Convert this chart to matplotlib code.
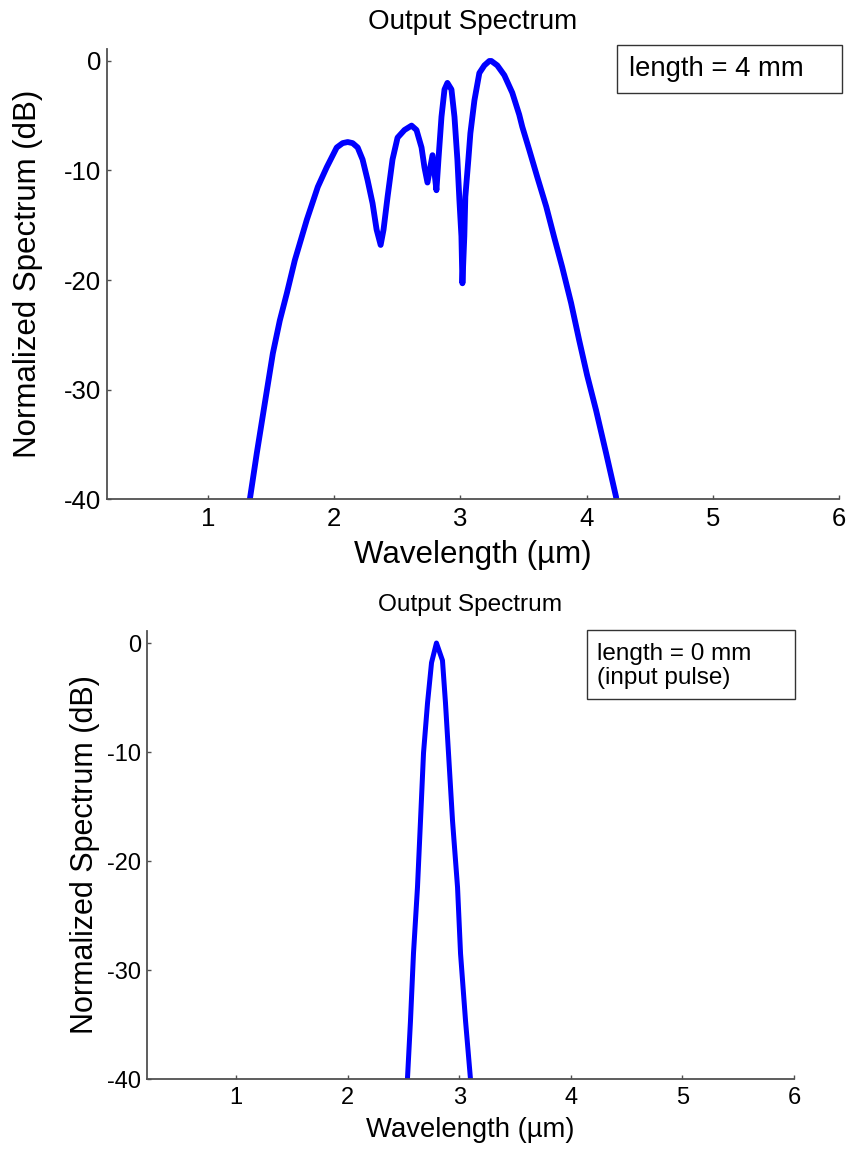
import matplotlib
matplotlib.use('Agg')
import matplotlib.pyplot as plt
from matplotlib.patches import Rectangle

plt.rcParams['font.family'] = ['Liberation Sans', 'DejaVu Sans']
plt.rcParams['axes.unicode_minus'] = False

# spectrum after 4 mm
wl_4mm = [1.30, 1.332, 1.387, 1.451, 1.514, 1.569, 1.625, 1.688, 1.783, 1.870,
          1.941, 2.020, 2.067, 2.107, 2.146, 2.186, 2.225, 2.265, 2.304, 2.336,
          2.368, 2.391, 2.423, 2.462, 2.502, 2.557, 2.613, 2.652, 2.692, 2.715,
          2.739, 2.779, 2.810, 2.826, 2.850, 2.874, 2.897, 2.929, 2.953, 2.976,
          2.992, 3.008, 3.016, 3.031, 3.039, 3.063, 3.079, 3.111, 3.150, 3.190,
          3.229, 3.245, 3.292, 3.348, 3.411, 3.466, 3.490, 3.545, 3.609, 3.680,
          3.743, 3.806, 3.877, 3.941, 4.004, 4.075, 4.154, 4.233, 4.26]
db_4mm = [-42.5, -40.0, -35.8, -31.2, -26.7, -23.7, -21.2, -18.2, -14.5, -11.5,
          -9.7, -7.9, -7.5, -7.4, -7.5, -7.9, -9.0, -10.9, -13.0, -15.4,
          -16.8, -15.4, -12.4, -9.0, -7.0, -6.3, -5.9, -6.3, -7.9, -9.7,
          -11.1, -8.6, -11.8, -9.0, -5.1, -2.6, -2.0, -2.6, -5.1, -9.0,
          -12.7, -16.0, -20.3, -16.0, -12.4, -9.0, -6.6, -3.6, -1.1, -0.4,
          0.0, 0.0, -0.4, -1.3, -2.9, -4.9, -6.0, -8.1, -10.6, -13.3,
          -16.1, -18.8, -22.1, -25.5, -28.7, -31.9, -35.8, -39.8, -42.0]

# input pulse (0 mm)
wl_0mm = [2.52, 2.535, 2.562, 2.589, 2.625, 2.652, 2.679, 2.715, 2.751, 2.795,
          2.849, 2.876, 2.903, 2.939, 2.984, 3.011, 3.056, 3.100, 3.11]
db_0mm = [-41.5, -40.0, -34.7, -28.5, -22.4, -16.3, -10.1, -5.5, -1.8, 0.0,
          -1.6, -5.5, -10.1, -16.3, -22.4, -28.5, -34.7, -40.0, -41.5]

xticks = [1, 2, 3, 4, 5, 6]
yticks = [0, -10, -20, -30, -40]


def style_axes(ax, tick_size):
    ax.set_xlim(0.2, 6)
    ax.set_ylim(-40, 1.1)
    ax.set_xticks(xticks)
    ax.set_yticks(yticks)
    ax.set_xticklabels([str(t) for t in xticks])
    ax.set_yticklabels([str(t) for t in yticks])
    for s in ['top', 'right']:
        ax.spines[s].set_visible(False)
    for s in ['left', 'bottom']:
        ax.spines[s].set_color('#505050')
        ax.spines[s].set_linewidth(1.3)
    ax.tick_params(direction='in', length=3, width=1, color='#505050',
                   labelsize=tick_size)
    ax.tick_params(axis='y', pad=4)
    ax.tick_params(axis='x', pad=6)


fig = plt.figure(figsize=(8.52, 11.49), dpi=100)

# top panel
ax1 = fig.add_axes([0.1256, 0.5657, 0.8592, 0.3917])
ax1.plot(wl_4mm, db_4mm, color='#0000ff', linewidth=4.2,
         solid_joinstyle='round', solid_capstyle='round')
style_axes(ax1, 18.5)
ax1.set_title('Output Spectrum', fontsize=20, y=1.06, pad=0,
              verticalalignment='center')
ax1.set_xlabel('Wavelength (\u00b5m)', fontsize=22.5)
ax1.set_ylabel('Normalized Spectrum (dB)', fontsize=22.5)
ax1.xaxis.label.set_verticalalignment('center')
ax1.yaxis.label.set_verticalalignment('center')
ax1.xaxis.set_label_coords(0.5, -0.125)
ax1.yaxis.set_label_coords(-0.108, 0.5)

fig.add_artist(Rectangle((0.7242, 0.9191), 0.2641, 0.0418, transform=fig.transFigure,
                         facecolor='white', edgecolor='#333333', linewidth=1))
fig.text(0.7383, 0.940, 'length = 4 mm', fontsize=19.8, va='center', ha='left')

# bottom panel
ax2 = fig.add_axes([0.1725, 0.0609, 0.7594, 0.3899])
ax2.plot(wl_0mm, db_0mm, color='#0000ff', linewidth=3.6,
         solid_joinstyle='round', solid_capstyle='round')
style_axes(ax2, 17)
ax2.set_title('Output Spectrum', fontsize=17.6, y=1.058, pad=0,
              verticalalignment='center')
ax2.set_xlabel('Wavelength (\u00b5m)', fontsize=19.8)
ax2.set_ylabel('Normalized Spectrum (dB)', fontsize=22)
ax2.xaxis.label.set_verticalalignment('center')
ax2.yaxis.label.set_verticalalignment('center')
ax2.xaxis.set_label_coords(0.5, -0.114)
ax2.yaxis.set_label_coords(-0.096, 0.5)

fig.add_artist(Rectangle((0.689, 0.3916), 0.2441, 0.0601, transform=fig.transFigure,
                         facecolor='white', edgecolor='#333333', linewidth=1))
fig.text(0.7007, 0.4204, 'length = 0 mm\n(input pulse)', fontsize=17.5,
         va='center', ha='left', linespacing=1.15)

fig.savefig('out.png', dpi=100)
